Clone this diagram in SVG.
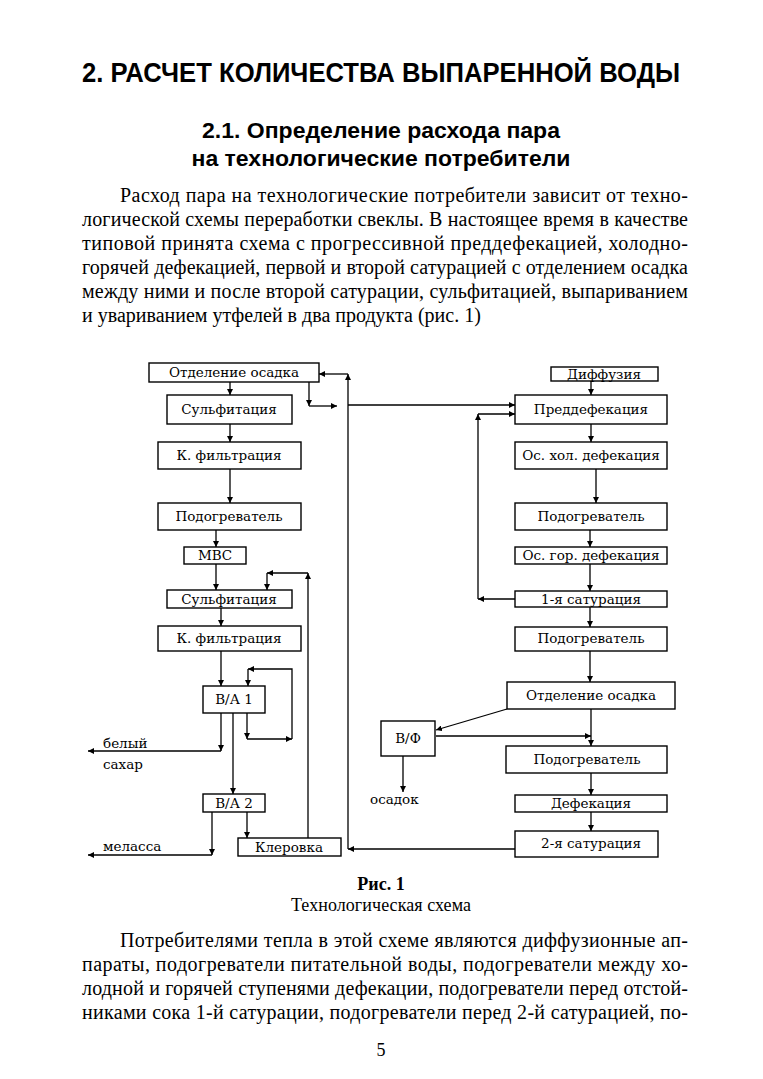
<svg xmlns="http://www.w3.org/2000/svg" width="763" height="1079" viewBox="0 0 763 1079">
<style>
.bg{fill:#fff}
.box{fill:#fff;stroke:#000;stroke-width:1.4}
.lbl{font-family:"DejaVu Serif","Liberation Serif",serif;font-size:13.5px;fill:#000;text-anchor:middle}
.side{font-family:"DejaVu Serif","Liberation Serif",serif;font-size:13.5px;fill:#000}
.c{fill:none;stroke:#000;stroke-width:1.3}
.h1{font-family:"Liberation Sans",Arial,sans-serif;font-weight:bold;font-size:27px;fill:#000;text-anchor:middle}
.h2{font-family:"Liberation Sans",Arial,sans-serif;font-weight:bold;font-size:22px;fill:#000;text-anchor:middle}
.body{font-family:"Liberation Serif","Times New Roman",serif;font-size:20px;fill:#000}
.cap{font-family:"Liberation Serif","Times New Roman",serif;font-size:18px;fill:#000;text-anchor:middle}
</style>
<defs>
<marker id="a" markerUnits="userSpaceOnUse" markerWidth="7" markerHeight="6" refX="6" refY="3" orient="auto">
<path d="M0,0 L6,3 L0,6 z" fill="#000"/>
</marker>
</defs>
<rect class="bg" width="763" height="1079"/>

<text class="h1" x="381" y="82" textLength="598" lengthAdjust="spacingAndGlyphs">2. РАСЧЕТ КОЛИЧЕСТВА ВЫПАРЕННОЙ ВОДЫ</text>
<text class="h2" x="381" y="138" textLength="358" lengthAdjust="spacingAndGlyphs">2.1. Определение расхода пара</text>
<text class="h2" x="381" y="166" textLength="379" lengthAdjust="spacingAndGlyphs">на технологические потребители</text>

<text class="body" x="120" y="202" textLength="568">Расход пара на технологические потребители зависит от техно-</text>
<text class="body" x="82" y="226" textLength="606">логической схемы переработки свеклы. В настоящее время в качестве</text>
<text class="body" x="82" y="250" textLength="606">типовой принята схема с прогрессивной преддефекацией, холодно-</text>
<text class="body" x="82" y="274" textLength="606">горячей дефекацией, первой и второй сатурацией с отделением осадка</text>
<text class="body" x="82" y="298" textLength="606">между ними и после второй сатурации, сульфитацией, выпариванием</text>
<text class="body" x="82" y="322">и увариванием утфелей в два продукта (рис. 1)</text>

<g id="connectors">
<path class="c" d="M230,382 V395" marker-end="url(#a)"/>
<path class="c" d="M230,424 V442" marker-end="url(#a)"/>
<path class="c" d="M230,469 V503" marker-end="url(#a)"/>
<path class="c" d="M216,530 V547" marker-end="url(#a)"/>
<path class="c" d="M216,564 V590" marker-end="url(#a)"/>
<path class="c" d="M221,608 V626" marker-end="url(#a)"/>
<path class="c" d="M221,651 V686" marker-end="url(#a)"/>
<path class="c" d="M247,713 V739" marker-end="url(#a)"/>
<path class="c" d="M247,739 H292" marker-end="url(#a)"/>
<path class="c" d="M292,739 V669 H248" marker-end="url(#a)"/>
<path class="c" d="M248,669 V686" marker-end="url(#a)"/>
<path class="c" d="M221,713 V751" marker-end="url(#a)"/>
<path class="c" d="M221,751 H88" marker-end="url(#a)"/>
<path class="c" d="M233,713 V794" marker-end="url(#a)"/>
<path class="c" d="M212,812 V855" marker-end="url(#a)"/>
<path class="c" d="M212,855 H88" marker-end="url(#a)"/>
<path class="c" d="M247,812 V838" marker-end="url(#a)"/>
<path class="c" d="M308,838 V573" marker-end="url(#a)"/>
<path class="c" d="M308,573 H267" marker-end="url(#a)"/>
<path class="c" d="M267,573 V590" marker-end="url(#a)"/>
<path class="c" d="M515,849 H348" marker-end="url(#a)"/>
<path class="c" d="M348,849 V374" marker-end="url(#a)"/>
<path class="c" d="M348,374 H319" marker-end="url(#a)"/>
<path class="c" d="M309,382 V406" marker-end="url(#a)"/>
<path class="c" d="M309,406 H337" marker-end="url(#a)"/>
<path class="c" d="M348,405 H515" marker-end="url(#a)"/>
<path class="c" d="M591,381 V395" marker-end="url(#a)"/>
<path class="c" d="M591,424 V442" marker-end="url(#a)"/>
<path class="c" d="M596,469 V503" marker-end="url(#a)"/>
<path class="c" d="M590,530 V547" marker-end="url(#a)"/>
<path class="c" d="M590,564 V591" marker-end="url(#a)"/>
<path class="c" d="M515,599 H478" marker-end="url(#a)"/>
<path class="c" d="M478,599 V414" marker-end="url(#a)"/>
<path class="c" d="M478,414 H515" marker-end="url(#a)"/>
<path class="c" d="M590,607 V627" marker-end="url(#a)"/>
<path class="c" d="M590,651 V682" marker-end="url(#a)"/>
<path class="c" d="M507,709 L436,730" marker-end="url(#a)"/>
<path class="c" d="M591,709 V746" marker-end="url(#a)"/>
<path class="c" d="M436,736 H591" marker-end="url(#a)"/>
<path class="c" d="M403,756 V792" marker-end="url(#a)"/>
<path class="c" d="M591,773 V795" marker-end="url(#a)"/>
<path class="c" d="M591,812 V831" marker-end="url(#a)"/>
</g>

<g id="n-otdelenie1"><rect class="box" x="149" y="363" width="170" height="19"/><text class="lbl" x="234" y="377">Отделение осадка</text></g>
<g id="n-sulf1"><rect class="box" x="167" y="395" width="125" height="29"/><text class="lbl" x="229" y="414">Сульфитация</text></g>
<g id="n-kfilt1"><rect class="box" x="158" y="442" width="143" height="27"/><text class="lbl" x="229" y="460">К. фильтрация</text></g>
<g id="n-podogr1"><rect class="box" x="158" y="503" width="143" height="27"/><text class="lbl" x="229" y="521">Подогреватель</text></g>
<g id="n-mvs"><rect class="box" x="184" y="547" width="62" height="17"/><text class="lbl" x="215" y="560">МВС</text></g>
<g id="n-sulf2"><rect class="box" x="167" y="590" width="125" height="18"/><text class="lbl" x="229" y="604">Сульфитация</text></g>
<g id="n-kfilt2"><rect class="box" x="158" y="626" width="143" height="25"/><text class="lbl" x="229" y="643">К. фильтрация</text></g>
<g id="n-va1"><rect class="box" x="203" y="686" width="62" height="27"/><text class="lbl" x="234" y="704">В/А 1</text></g>
<g id="n-va2"><rect class="box" x="203" y="794" width="62" height="18"/><text class="lbl" x="234" y="808">В/А 2</text></g>
<g id="n-klerovka"><rect class="box" x="238" y="838" width="103" height="18"/><text class="lbl" x="289" y="852">Клеровка</text></g>
<g id="n-belyi"><text class="side" x="103" y="748">белый</text><text class="side" x="103" y="769">сахар</text></g>
<g id="n-melassa"><text class="side" x="103" y="851">меласса</text></g>

<g id="n-diff"><rect class="box" x="551" y="367" width="107" height="14"/><text class="lbl" x="604" y="379">Диффузия</text></g>
<g id="n-preddef"><rect class="box" x="515" y="395" width="152" height="29"/><text class="lbl" x="591" y="414">Преддефекация</text></g>
<g id="n-oshol"><rect class="box" x="515" y="442" width="152" height="27"/><text class="lbl" x="591" y="460">Ос. хол. дефекация</text></g>
<g id="n-podogr2"><rect class="box" x="515" y="503" width="152" height="27"/><text class="lbl" x="591" y="521">Подогреватель</text></g>
<g id="n-osgor"><rect class="box" x="515" y="547" width="152" height="17"/><text class="lbl" x="591" y="560">Ос. гор. дефекация</text></g>
<g id="n-sat1"><rect class="box" x="515" y="591" width="152" height="16"/><text class="lbl" x="591" y="604">1-я сатурация</text></g>
<g id="n-podogr3"><rect class="box" x="515" y="627" width="152" height="24"/><text class="lbl" x="591" y="643">Подогреватель</text></g>
<g id="n-otdelenie2"><rect class="box" x="507" y="682" width="168" height="27"/><text class="lbl" x="591" y="700">Отделение осадка</text></g>
<g id="n-vf"><rect class="box" x="381" y="721" width="54" height="35"/><text class="lbl" x="408" y="743">В/Ф</text></g>
<g id="n-osadok"><text class="side" x="370" y="804" font-size="12.5">осадок</text></g>
<g id="n-podogr4"><rect class="box" x="506" y="746" width="161" height="27"/><text class="lbl" x="587" y="764">Подогреватель</text></g>
<g id="n-defek"><rect class="box" x="515" y="795" width="152" height="17"/><text class="lbl" x="591" y="808">Дефекация</text></g>
<g id="n-sat2"><rect class="box" x="515" y="831" width="143" height="26"/><text class="lbl" x="591" y="848">2-я сатурация</text></g>

<text class="cap" x="381" y="890" font-weight="bold" font-size="17">Рис. 1</text>
<text class="cap" x="381" y="911" textLength="180">Технологическая схема</text>

<text class="body" x="120" y="947" textLength="568">Потребителями тепла в этой схеме являются диффузионные ап-</text>
<text class="body" x="82" y="971" textLength="606">параты, подогреватели питательной воды, подогреватели между хо-</text>
<text class="body" x="82" y="995" textLength="606">лодной и горячей ступенями дефекации, подогреватели перед отстой-</text>
<text class="body" x="82" y="1019" textLength="606">никами сока 1-й сатурации, подогреватели перед 2-й сатурацией, по-</text>
<text class="cap" x="381" y="1056" font-size="20">5</text>
</svg>
